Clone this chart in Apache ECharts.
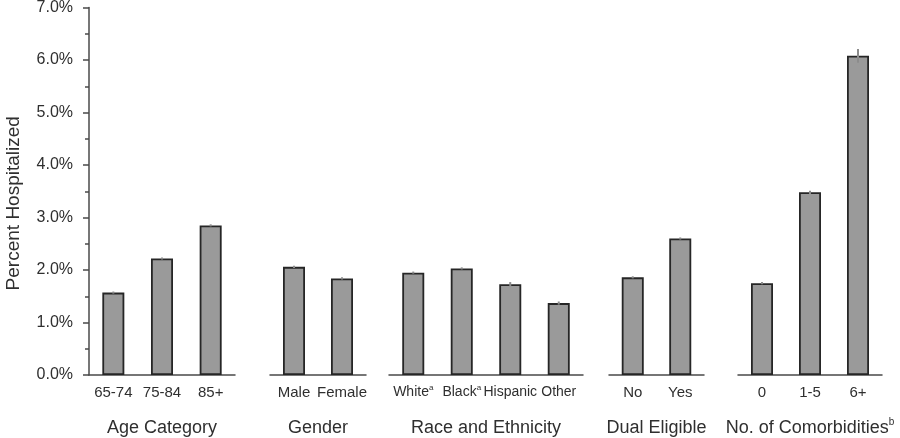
<!DOCTYPE html>
<html>
<head>
<meta charset="utf-8">
<script src="https://cdn.jsdelivr.net/npm/echarts@6/dist/echarts.min.js"></script>
<style>
html,body{margin:0;padding:0;background:#fff;}
#chart{width:900px;height:438px;}
</style>
</head>
<body>
<div id="chart"></div>
<script>
// ---- data ----
const ageCats = ['65-74', '75-84', '85+'];
const ageVals = [1.57, 2.22, 2.85];
const ageErr = [0.02, 0.02, 0.02];

const genderCats = ['Male', 'Female'];
const genderVals = [2.06, 1.84];
const genderErr = [0.02, 0.02];

const raceCats = ['White', 'Black', 'Hispanic', 'Other'];
const raceSup = ['a', 'a', '', ''];
const raceVals = [1.95, 2.03, 1.73, 1.37];
const raceErr = [0.02, 0.02, 0.04, 0.03];

const dualCats = ['No', 'Yes'];
const dualVals = [1.86, 2.60];
const dualErr = [0.02, 0.02];

const comorbCats = ['0', '1-5', '6+'];
const comorbVals = [1.75, 3.48, 6.08];
const comorbErr = [0.02, 0.03, 0.13];

const groupTitles = ['Age Category', 'Gender', 'Race and Ethnicity', 'Dual Eligible', 'No. of Comorbidities'];
const groupTitleSup = ['', '', '', '', 'b'];
const yTicks = [0, 1, 2, 3, 4, 5, 6, 7];
const yLabelName = 'Percent Hospitalized';

// ---- layout ----
const groups = [
  {cats: ageCats, vals: ageVals, err: ageErr, sup: null, left: 89, width: 146, fs: 15},
  {cats: genderCats, vals: genderVals, err: genderErr, sup: null, left: 270, width: 96, fs: 15},
  {cats: raceCats, vals: raceVals, err: raceErr, sup: raceSup, left: 389, width: 194, fs: 14},
  {cats: dualCats, vals: dualVals, err: dualErr, sup: null, left: 609, width: 95, fs: 15},
  {cats: comorbCats, vals: comorbVals, err: comorbErr, sup: null, left: 738, width: 144, fs: 15}
];

const FONT = '"Liberation Sans", Arial, sans-serif';
const TEXT = '#2f2f2f';
const AXIS = '#4a4a4a';
const TOP = 7.5, BOTTOM = 63;

const grid = [], xAxis = [], yAxis = [], series = [];
groups.forEach((g, i) => {
  grid.push({left: g.left, width: g.width, top: TOP, bottom: BOTTOM, containLabel: false, outerBoundsMode: 'none'});
  const sup = g.sup;
  xAxis.push({
    type: 'category', gridIndex: i, data: g.cats,
    axisLine: {show: true, lineStyle: {color: AXIS, width: 1.5}},
    axisTick: {show: false},
    axisLabel: {
      interval: 0, margin: 9, color: TEXT, fontFamily: FONT, fontSize: 15, lineHeight: 17,
      formatter: v => {
        const k = g.cats.indexOf(v);
        return '{n|' + v + '}' + (sup && sup[k] ? '{s|' + sup[k] + '}' : '');
      },
      rich: {
        n: {fontFamily: FONT, fontSize: g.fs, color: TEXT, lineHeight: 17},
        s: {fontFamily: FONT, fontSize: 8, color: TEXT, lineHeight: 17, verticalAlign: 'top', padding: [0, 0, 8, 0]}
      }
    },
    name: '{t|' + groupTitles[i] + '}' + (groupTitleSup[i] ? '{s|' + groupTitleSup[i] + '}' : ''),
    nameLocation: 'middle', nameGap: 42,
    nameTextStyle: {
      color: TEXT, fontFamily: FONT, fontSize: 18, lineHeight: 22,
      rich: {
        t: {fontFamily: FONT, fontSize: 18, color: TEXT, lineHeight: 22},
        s: {fontFamily: FONT, fontSize: 10, color: TEXT, lineHeight: 22, verticalAlign: 'top', padding: [0, 0, 10, 0]}
      }
    }
  });
  yAxis.push({
    type: 'value', gridIndex: i, min: 0, max: 7, interval: 1,
    show: i === 0,
    splitLine: {show: false},
    axisLine: {show: i === 0, lineStyle: {color: AXIS, width: 1.5}},
    axisTick: {show: i === 0, length: 6, lineStyle: {color: AXIS, width: 1.5}},
    minorTick: {show: i === 0, splitNumber: 2, length: 4, lineStyle: {color: AXIS, width: 1.5}},
    axisLabel: {
      show: i === 0, margin: 16, color: TEXT, fontFamily: FONT, fontSize: 16,
      formatter: v => yTicks.includes(v) ? v.toFixed(1) + '%' : ''
    },
    name: i === 0 ? yLabelName : '',
    nameLocation: 'middle', nameGap: 66, nameRotate: 90,
    nameTextStyle: {color: TEXT, fontFamily: FONT, fontSize: 19, padding: [0, 24, 0, 0]}
  });
  series.push({
    type: 'bar', xAxisIndex: i, yAxisIndex: i, data: g.vals,
    barWidth: 22,
    itemStyle: {color: '#9a9a9a', borderColor: '#262626', borderWidth: 1.8},
    silent: true, animation: false
  });
  series.push({
    type: 'custom', xAxisIndex: i, yAxisIndex: i,
    data: g.vals.map((v, k) => [k, v - g.err[k], v + g.err[k]]),
    renderItem: (params, api) => {
      const lo = api.coord([api.value(0), api.value(1)]);
      const hi = api.coord([api.value(0), api.value(2)]);
      return {type: 'line', shape: {x1: lo[0], y1: lo[1], x2: hi[0], y2: hi[1]},
              style: {stroke: '#8c8c8c', lineWidth: 2}};
    },
    z: 5, silent: true, animation: false
  });
});

const chart = echarts.init(document.getElementById('chart'), null, {renderer: 'canvas'});
chart.setOption({animation: false, grid, xAxis, yAxis, series});
</script>
</body>
</html>
